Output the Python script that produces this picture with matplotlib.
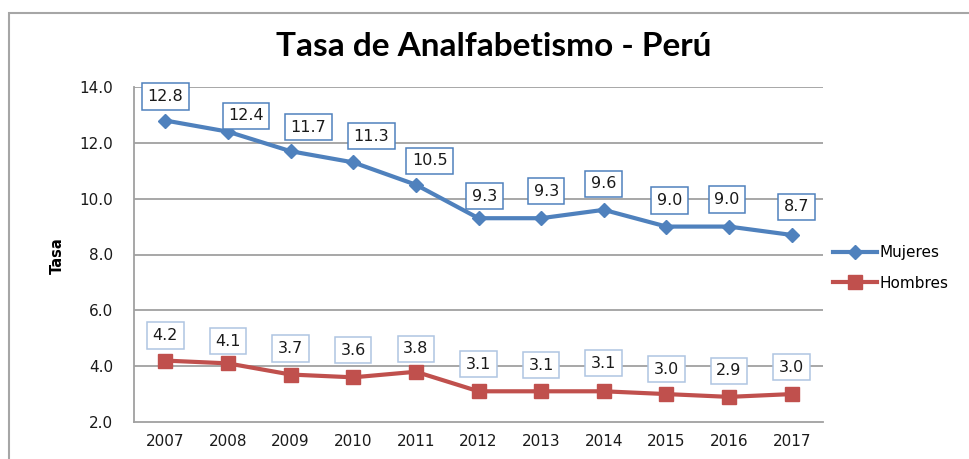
import matplotlib.pyplot as plt
from matplotlib.patches import Rectangle

years = ['2007', '2008', '2009', '2010', '2011', '2012', '2013', '2014', '2015', '2016', '2017']
mujeres = [12.8, 12.4, 11.7, 11.3, 10.5, 9.3, 9.3, 9.6, 9.0, 9.0, 8.7]
hombres = [4.2, 4.1, 3.7, 3.6, 3.8, 3.1, 3.1, 3.1, 3.0, 2.9, 3.0]
yticks = [2.0, 4.0, 6.0, 8.0, 10.0, 12.0, 14.0]

# label offsets (pixels), labels were dragged a bit in the original
muj_dx = [0, 18, 18, 18, 14, 6, 5, 0, 3, -2, 5]
muj_dy = [24, 16, 24, 26, 24, 22, 27, 26, 26, 27, 28]
hom_dy = [25, 22, 26, 27, 23, 27, 26, 28, 25, 26, 27]

blue = '#4F81BD'
red = '#C0504D'
grid = '#A0A0A0'

W, H = 970, 459
fig = plt.figure(figsize=(W / 100, H / 100), dpi=100)
fig.patch.set_facecolor('white')

# outer chart border (only top and left visible, the rest is cropped)
fig.patches.append(Rectangle((9 / W, -0.2), 1.2, 1.2 - 13 / H,
                             transform=fig.transFigure, fill=False,
                             edgecolor='#A6A6A6', lw=1.5))

ax = fig.add_axes([134 / W, 1 - 422 / H, 689 / W, 335 / H])
x = list(range(len(years)))

ax.plot(x, mujeres, color=blue, lw=3, marker='D', ms=7, label='Mujeres', zorder=3)
ax.plot(x, hombres, color=red, lw=3, marker='s', ms=9.5, label='Hombres', zorder=3)

for i in x:
    ax.annotate(f'{mujeres[i]:.1f}', (i, mujeres[i]), xytext=(muj_dx[i] * 0.72, muj_dy[i] * 0.72),
                textcoords='offset points', ha='center', va='center', fontsize=11.5,
                color='#1a1a1a', zorder=4,
                bbox=dict(boxstyle='square,pad=0.35', fc='white', ec=blue, lw=1.1))
    ax.annotate(f'{hombres[i]:.1f}', (i, hombres[i]), xytext=(0, hom_dy[i] * 0.72),
                textcoords='offset points', ha='center', va='center', fontsize=11.5,
                color='#1a1a1a', zorder=4,
                bbox=dict(boxstyle='square,pad=0.35', fc='white', ec='#AFC5E2', lw=1.1))

ax.set_xlim(-0.5, 10.5)
ax.set_ylim(2, 14)
ax.set_xticks(x)
ax.set_xticklabels(years)
ax.set_yticks(yticks)
ax.set_yticklabels([f'{t:.1f}' for t in yticks])
ax.tick_params(axis='both', length=0, labelsize=11, colors='#1a1a1a')
ax.tick_params(axis='y', pad=15)
ax.tick_params(axis='x', pad=9)
for t in yticks[1:]:
    ax.axhline(t, color=grid, lw=1.3, zorder=1)
for s in ['top', 'right']:
    ax.spines[s].set_visible(False)
for s in ['left', 'bottom']:
    ax.spines[s].set_color(grid)
    ax.spines[s].set_linewidth(1.3)

fig.text(57 / W, 1 - 256 / H, 'Tasa', rotation=90, ha='center', va='center',
         fontsize=10.5, fontweight='bold')
fig.text(494 / W, 1 - 47 / H, 'Tasa de Analfabetismo - Perú', ha='center', va='center',
         fontsize=24, fontweight='bold', family='Lato')

leg = ax.legend(loc='center left', bbox_to_anchor=(833 / W, 1 - 268 / H),
                bbox_transform=fig.transFigure, frameon=False, fontsize=11,
                handlelength=2.9, handletextpad=0.15, labelspacing=1.0,
                borderpad=0, borderaxespad=0)

fig.savefig('out.png', dpi=100)
